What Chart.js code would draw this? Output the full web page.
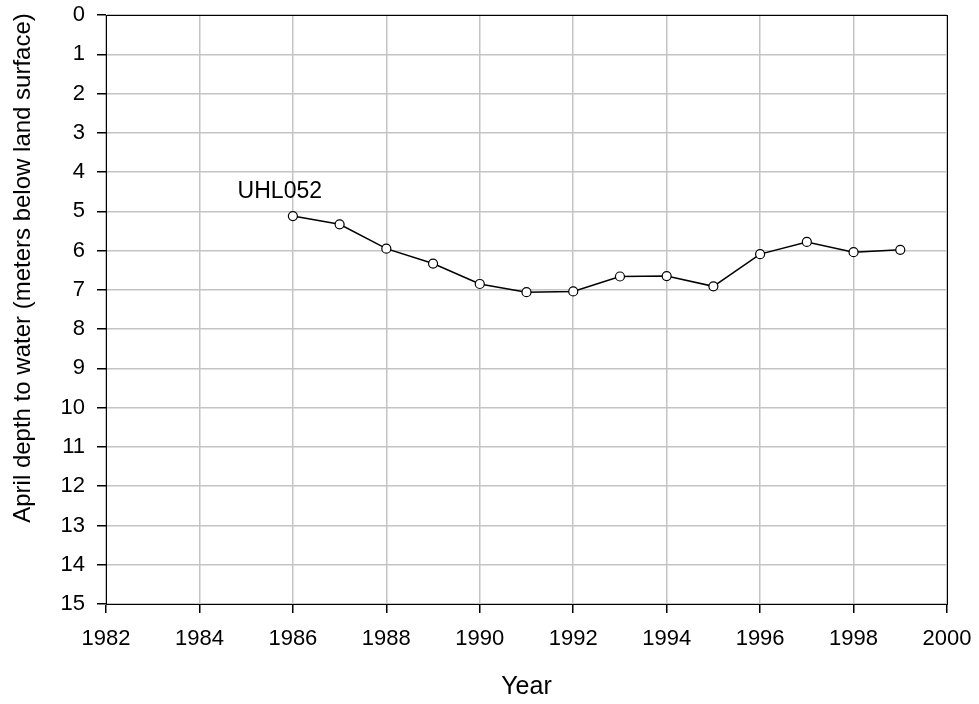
<!DOCTYPE html>
<html>
<head>
<meta charset="utf-8">
<script src="https://cdn.jsdelivr.net/npm/chart.js@4"></script>
<style>
html,body{margin:0;padding:0;background:#fff;}
#wrap{width:979px;height:704px;position:relative;}
</style>
</head>
<body>
<div id="wrap"><canvas id="c" width="979" height="704"></canvas></div>
<script>
const years = [1986,1987,1988,1989,1990,1991,1992,1993,1994,1995,1996,1997,1998,1999];
const depths = [5.12,5.33,5.95,6.33,6.85,7.06,7.04,6.66,6.65,6.91,6.09,5.78,6.04,5.98];
const seriesLabel = "UHL052";
const labelPos = {x: 1985.72, y: 4.5};
const xTitle = "Year";
const yTitle = "April depth to water (meters below land surface)";

const FONT = "'Liberation Sans', Arial, sans-serif";

const frame = {
  id: 'frame',
  afterDatasetsDraw(chart) {
    const {ctx, chartArea: a, scales} = chart;
    ctx.save();
    ctx.strokeStyle = '#000';
    ctx.lineWidth = 1;
    ctx.strokeRect(Math.round(a.left)+0.5, Math.round(a.top)+0.5, Math.round(a.right-a.left), Math.round(a.bottom-a.top));
    ctx.fillStyle = '#000';
    ctx.font = "23px " + FONT;
    ctx.textAlign = 'center';
    ctx.textBaseline = 'middle';
    ctx.fillText(seriesLabel, scales.x.getPixelForValue(labelPos.x), scales.y.getPixelForValue(labelPos.y));
    // axis titles
    ctx.font = "25px " + FONT;
    ctx.fillText(xTitle, (a.left + a.right) / 2, 687);
    ctx.font = "24px " + FONT;
    ctx.translate(23, 268);
    ctx.rotate(-Math.PI / 2);
    ctx.fillText(yTitle, 0, 0);
    ctx.restore();
  }
};

new Chart(document.getElementById('c'), {
  type: 'line',
  data: {
    datasets: [{
      label: seriesLabel,
      data: years.map((y,i)=>({x:y, y:depths[i]})),
      borderColor: '#000',
      borderWidth: 1.5,
      pointRadius: 4.5,
      pointBackgroundColor: '#fff',
      pointBorderColor: '#000',
      pointBorderWidth: 1.2,
      tension: 0
    }]
  },
  options: {
    responsive: false,
    animation: false,
    devicePixelRatio: 1,
    layout: {padding: {left: 0, right: 32, top: 15, bottom: 0}},
    plugins: {legend: {display: false}, tooltip: {enabled: false}},
    scales: {
      x: {
        type: 'linear',
        min: 1982, max: 2000,
        afterFit(s){ s.height = 100; s.paddingLeft = 0; s.paddingRight = 0; },
        ticks: {stepSize: 2, color: '#000', font: {size: 22, family: FONT}, padding: 13, maxRotation: 0, autoSkip: false, callback: v => String(v)},
        grid: {color: '#c4c4c4', lineWidth: 1.5, tickColor: '#000', tickLength: 9, drawTicks: true},
        border: {color: '#000', width: 1},
        title: {display: false}
      },
      y: {
        type: 'linear',
        reverse: true,
        min: 0, max: 15,
        afterFit(s){ s.width = 106; s.paddingTop = 0; s.paddingBottom = 0; },
        ticks: {stepSize: 1, color: '#000', font: {size: 22, family: FONT}, padding: 12, autoSkip: false},
        grid: {color: '#c4c4c4', lineWidth: 1.5, tickColor: '#000', tickLength: 9, drawTicks: true},
        border: {color: '#000', width: 1},
        title: {display: false}
      }
    }
  },
  plugins: [frame]
});
</script>
</body>
</html>
